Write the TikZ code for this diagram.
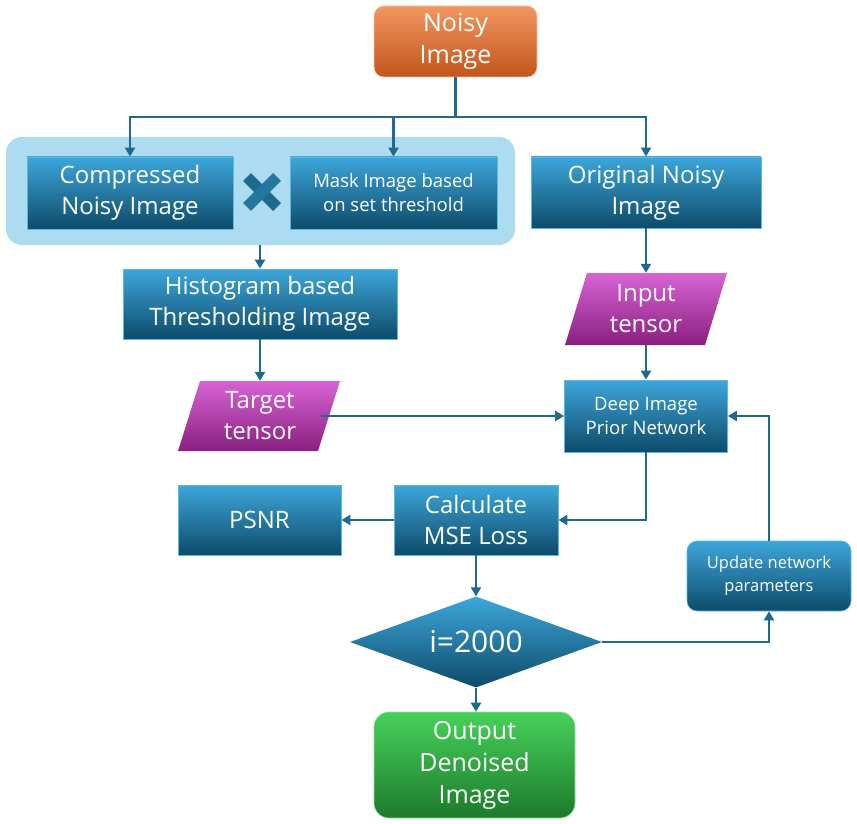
\documentclass[tikz,border=0pt]{standalone}
\usepackage{fontspec}
\setmainfont{Open Sans}
\usetikzlibrary{shapes.geometric,arrows.meta,calc}
\definecolor{boxtop}{HTML}{3DA6DA}
\definecolor{boxbot}{HTML}{0E4B6A}
\definecolor{boxedge}{HTML}{5BB9E3}
\definecolor{magtop}{HTML}{D763D4}
\definecolor{magbot}{HTML}{89207F}
\definecolor{ortop}{HTML}{F29660}
\definecolor{orbot}{HTML}{C2551C}
\definecolor{grtop}{HTML}{46D15A}
\definecolor{grbot}{HTML}{1D7A2B}
\definecolor{conn}{HTML}{1D6A8E}
\definecolor{bgblue}{HTML}{ADDCF1}
\tikzset{
  bluebox/.style={rectangle, top color=boxtop, bottom color=boxbot, draw=boxedge, line width=0.8pt,
    text=white, align=center, inner sep=2pt},
  bigtxt/.style={font=\fontsize{24}{31}\selectfont},
  midtxt/.style={font=\fontsize{18.5}{24}\selectfont},
  smalltxt/.style={font=\fontsize{16.5}{23}\selectfont},
  arr/.style={draw=conn, line width=2.4pt, -{Triangle[width=10pt,length=9pt]}},
  ln/.style={draw=conn, line width=2.4pt},
  plain/.style={text=white, align=center, inner sep=0pt},
}
\begin{document}
\begin{tikzpicture}[x=1pt,y=-1pt]
\useasboundingbox[fill=white] (0,0) rectangle (857,824);

% background group
\node[rectangle, rounded corners=16pt, fill=bgblue, minimum width=509pt, minimum height=108pt, inner sep=0pt] (bg) at (260.5,191) {};

\node[rectangle, rounded corners=10pt, top color=ortop, bottom color=orbot, draw=ortop!60!white, line width=0.6pt,
  minimum width=163pt, minimum height=71pt, text=white, align=center, font=\fontsize{25}{32}\selectfont] (noisy) at (455.5,41.5) {Noisy\\Image};

\node[bluebox, bigtxt, minimum width=206pt, minimum height=72pt] (comp) at (130,193) {Compressed\\Noisy Image};
\node[bluebox, midtxt, minimum width=207pt, minimum height=72pt] (mask) at (393.5,193) {Mask Image based\\on set threshold};
\node[bluebox, bigtxt, minimum width=230pt, minimum height=71pt] (orig) at (646,192.5) {Original Noisy\\Image};

% multiplication sign
\coordinate (xc) at (262,192);
\draw[line width=11pt, draw=conn] ($(xc)+(-15,-15)$) -- ($(xc)+(15,15)$);
\draw[line width=11pt, draw=conn!80!boxtop] ($(xc)+(-15,15)$) -- ($(xc)+(15,-15)$);

\node[bluebox, bigtxt, minimum width=274pt, minimum height=70pt] (hist) at (260,304) {Histogram based\\Thresholding Image};

% parallelograms
\shade[top color=magtop, bottom color=magbot] (587,273) -- (727,273) -- (705,345) -- (565,345) -- cycle;
\node[plain, bigtxt, minimum width=140pt, minimum height=72pt] (inp) at (646,309) {Input\\tensor};
\shade[top color=magtop, bottom color=magbot] (200,381) -- (340,381) -- (318,451) -- (178,451) -- cycle;
\node[plain, bigtxt, minimum width=122pt, minimum height=70pt] (tgt) at (260,416) {Target\\tensor};

\node[bluebox, midtxt, minimum width=163pt, minimum height=72pt] (dip) at (646,416) {Deep Image\\Prior Network};
\node[bluebox, bigtxt, minimum width=164pt, minimum height=70pt] (mse) at (476,520) {Calculate\\MSE Loss};
\node[bluebox, bigtxt, minimum width=163pt, minimum height=70pt] (psnr) at (259.5,520) {PSNR};
\node[rectangle, rounded corners=10pt, top color=boxtop, bottom color=boxbot, draw=boxedge, line width=0.6pt,
  text=white, align=center, smalltxt, minimum width=164pt, minimum height=70pt] (upd) at (769,576) {Update network\\parameters};

\node[diamond, aspect=2.77, inner sep=0pt, minimum width=252pt, minimum height=91pt,
  top color=boxtop, bottom color=boxbot, text=white, font=\fontsize{30}{34}\selectfont] (dec) at (476,642) {i=2000};

\node[rectangle, rounded corners=15pt, top color=grtop, bottom color=grbot, draw=grtop!60!white, line width=0.6pt,
  minimum width=201pt, minimum height=106pt, text=white, align=center, font=\fontsize{25}{32}\selectfont] (out) at (474.5,765) {Output\\Denoised\\Image};

% connectors
\coordinate (split) at (455.5,117);
\draw[ln] (noisy.south) -- (split);
\draw[arr] (split) -| (comp.north);
\draw[arr] (split) -| (orig.north);
\draw[arr] (mask.north |- split) -- (mask.north);
\draw[arr] (bg.south -| hist.north) -- (hist.north);
\draw[arr] (orig.south) -- (inp.north);
\draw[arr] (hist.south) -- (tgt.north);
\draw[arr] (inp.south) -- (dip.north);
\draw[arr] (tgt.east) -- (dip.west);
\draw[arr] (dip.south) |- (mse.east);
\draw[arr] (mse.west) -- (psnr.east);
\draw[arr] (mse.south) -- (dec.north);
\draw[arr] (dec.east) -| (upd.south);
\draw[arr] (upd.north) |- (dip.east);
\draw[arr] (dec.south) -- (dec.south |- out.north);
\end{tikzpicture}
\end{document}
